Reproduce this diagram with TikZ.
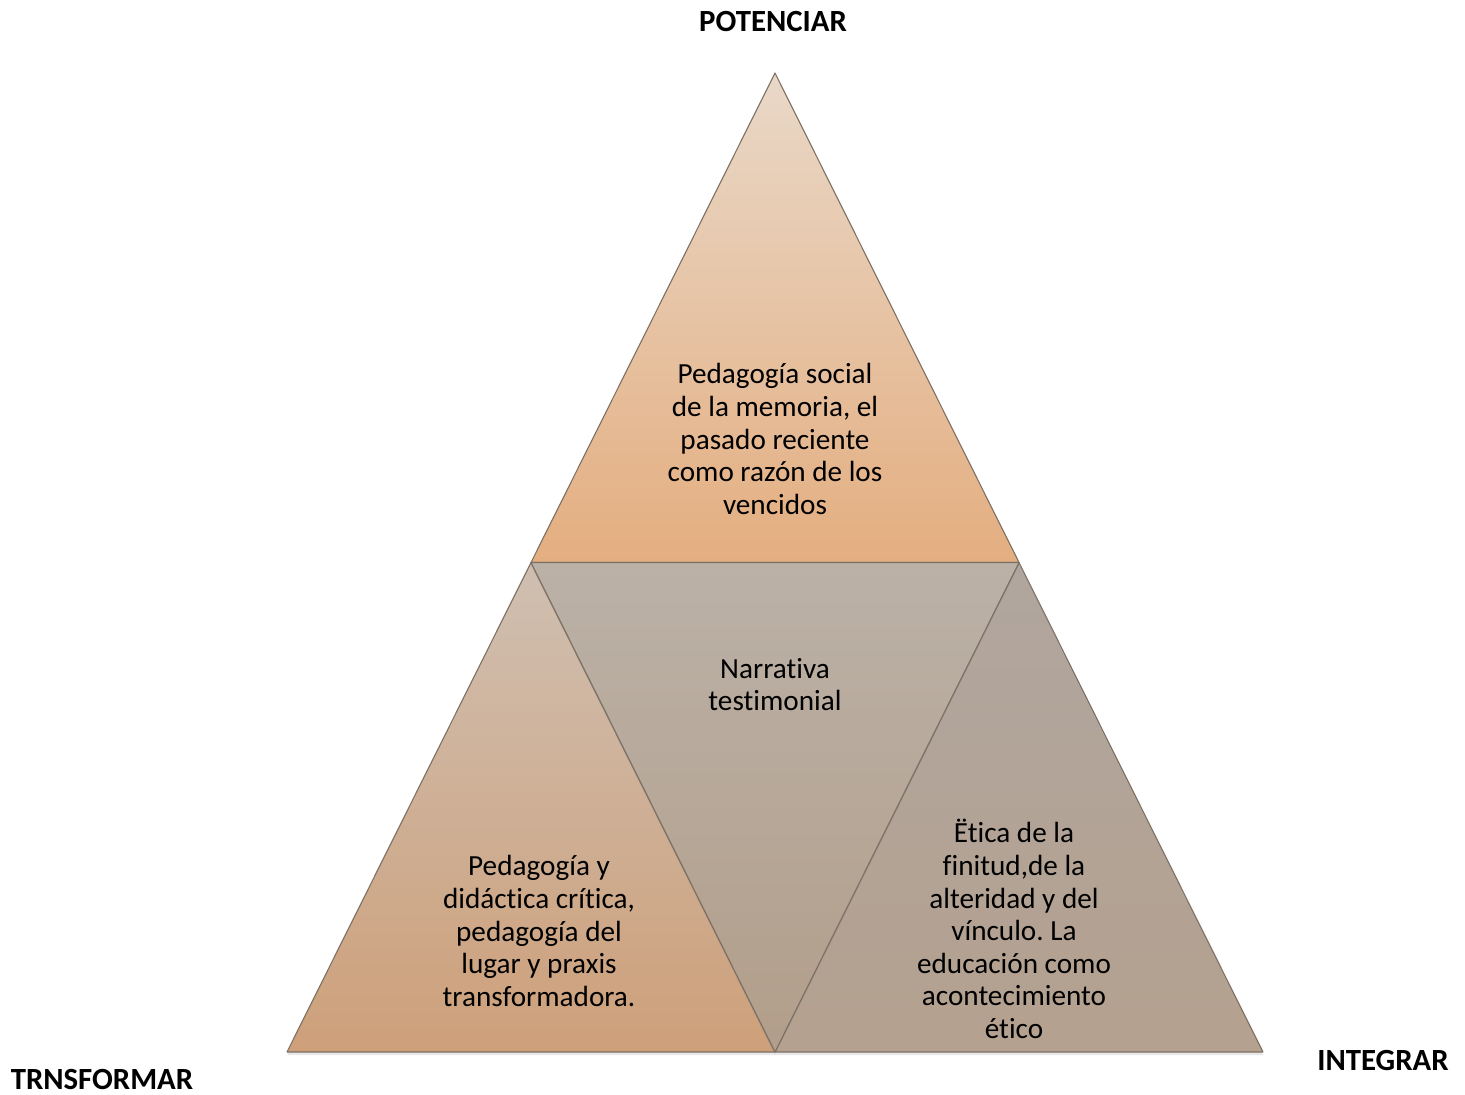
\documentclass[tikz,border=0pt]{standalone}
\usepackage{fontspec}
\setmainfont{Carlito}[Ligatures=NoCommon]
\usetikzlibrary{shadows}
\frenchspacing
\begin{document}
\begin{tikzpicture}[x=1pt,y=-1pt,
  facet/.style={draw={rgb,255:red,125;green,112;blue,100}, line width=1.1pt, line join=round,
    drop shadow={opacity=0.18, shadow xshift=0pt, shadow yshift=-3pt}},
  body/.style={align=center, text=black, font=\fontsize{29.2}{32.6}\selectfont, inner sep=0pt},
  corner/.style={text=black, font=\fontsize{30.8}{34}\selectfont\bfseries, inner sep=0pt, anchor=base}]
  \useasboundingbox (0,0) rectangle (1465,1095);
  \definecolor{topA}{RGB}{233,216,200}
  \definecolor{topB}{RGB}{228,174,128}
  \definecolor{midA}{RGB}{187,177,167}
  \definecolor{midB}{RGB}{178,158,138}
  \definecolor{leftA}{RGB}{207,191,177}
  \definecolor{leftB}{RGB}{206,160,122}
  \definecolor{rightA}{RGB}{176,166,159}
  \definecolor{rightB}{RGB}{180,161,143}

  % vertices of the outer triangle and the midpoints of its sides
  \coordinate (apex) at (775,73);
  \coordinate (bl) at (287,1052);
  \coordinate (br) at (1263,1052);
  \coordinate (ml) at (531,562.5);
  \coordinate (mr) at (1019,562.5);
  \coordinate (mb) at (775,1052);

  % four inner triangles
  \path[facet, top color=leftA, bottom color=leftB] (ml) -- (bl) -- (mb) -- cycle;
  \path[facet, top color=rightA, bottom color=rightB] (mr) -- (mb) -- (br) -- cycle;
  \path[facet, top color=topA, bottom color=topB] (apex) -- (ml) -- (mr) -- cycle;
  \path[facet, top color=midA, bottom color=midB] (ml) -- (mr) -- (mb) -- cycle;

  % texts of the triangles
  \node[body] (memoria) at (775,439) {Pedagogía social\\de la memoria, el\\pasado reciente\\como razón de los\\vencidos};
  \node[body] (narrativa) at (775,684.5) {Narrativa\\testimonial};
  \node[body] (critica) at (539,931) {Pedagogía y\\didáctica crítica,\\pedagogía del\\lugar y praxis\\transformadora.};
  \node[body] (etica) at (1014,929) {Ëtica de la\\finitud,de la\\alteridad y del\\vínculo. La\\educación como\\acontecimiento\\ético};

  % labels at the corners
  \node[corner] (potenciar) at (773,31) {POTENCIAR};
  \node[corner] (transformar) at (102,1089) {TRNSFORMAR};
  \node[corner] (integrar) at (1383,1070) {INTEGRAR};
\end{tikzpicture}
\end{document}
